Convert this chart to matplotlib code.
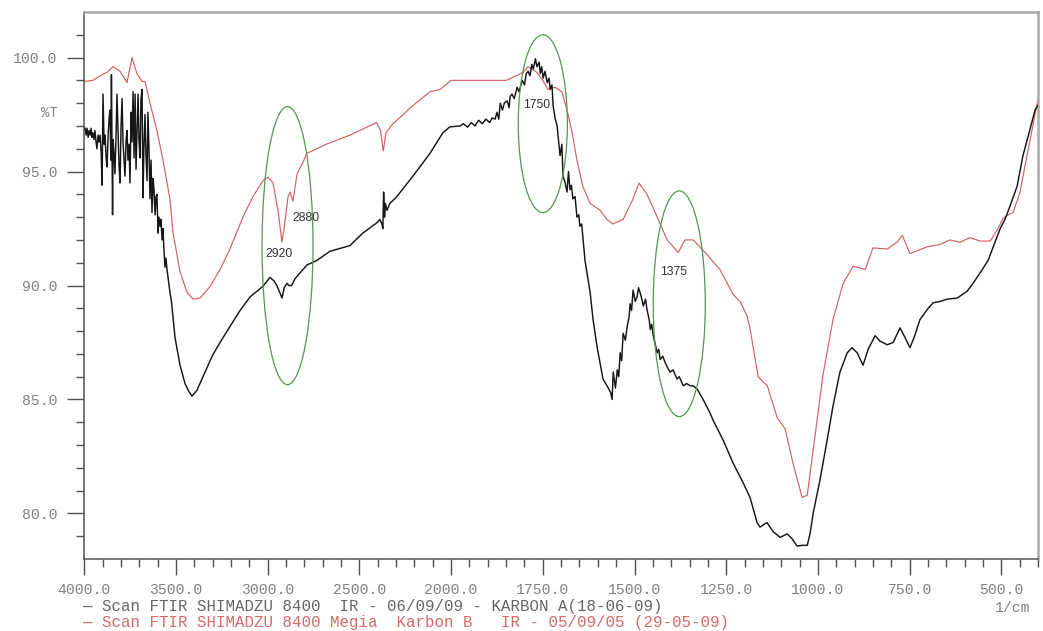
import numpy as np
import matplotlib
matplotlib.use("Agg")
import matplotlib.pyplot as plt
from matplotlib.patches import Ellipse
from matplotlib.ticker import FixedLocator, FuncFormatter

plt.rcParams['font.family'] = ['Liberation Mono', 'DejaVu Sans Mono']

# Karbon A spectrum (black trace): wavenumber [1/cm], transmittance [%T]
wn_a = [3996, 3990, 3985, 3979, 3974, 3968, 3963, 3958, 3953, 3947, 3942, 3936,
        3931, 3925, 3920, 3914, 3908, 3903, 3898, 3892, 3887, 3881, 3876, 3870,
        3865, 3860, 3855, 3852, 3846, 3843, 3838, 3833, 3827, 3822, 3816, 3811,
        3805, 3800, 3794, 3789, 3783, 3778, 3772, 3767, 3762, 3756, 3751, 3745,
        3740, 3734, 3729, 3723, 3718, 3712, 3707, 3702, 3696, 3691, 3685, 3680,
        3675, 3669, 3664, 3658, 3653, 3647, 3642, 3636, 3631, 3625, 3620, 3614,
        3609, 3604, 3598, 3593, 3587, 3582, 3576, 3571, 3566, 3560, 3555, 3549,
        3541, 3533, 3525, 3516, 3505, 3478, 3451, 3430, 3413, 3386, 3353, 3303,
        3260, 3206, 3151, 3096, 3058, 3026, 2988, 2965, 2950, 2935, 2922, 2910,
        2895, 2885, 2870, 2851, 2824, 2786, 2732, 2661, 2552, 2481, 2405, 2388,
        2377, 2372, 2368, 2363, 2358, 2350, 2334, 2296, 2208, 2115, 2045, 2007,
        1975, 1967, 1955, 1945, 1935, 1925, 1915, 1905, 1895, 1888, 1880, 1875,
        1870, 1866, 1860, 1855, 1847, 1842, 1839, 1834, 1828, 1820, 1815, 1806,
        1800, 1795, 1790, 1785, 1780, 1776, 1770, 1766, 1760, 1757, 1753, 1749,
        1744, 1738, 1733, 1730, 1725, 1722, 1716, 1711, 1703, 1698, 1695, 1689,
        1684, 1680, 1676, 1672, 1668, 1662, 1657, 1652, 1649, 1644, 1640, 1635,
        1621, 1613, 1602, 1586, 1575, 1565, 1561, 1558, 1552, 1547, 1543, 1539,
        1535, 1531, 1525, 1520, 1515, 1512, 1508, 1504, 1498, 1493, 1489, 1485,
        1480, 1476, 1470, 1466, 1460, 1457, 1453, 1449, 1443, 1438, 1434, 1430,
        1423, 1416, 1410, 1403, 1395, 1384, 1378, 1367, 1358, 1348, 1340, 1329,
        1313, 1294, 1286, 1258, 1231, 1204, 1185, 1166, 1158, 1139, 1122, 1103,
        1084, 1071, 1057, 1043, 1029, 1021, 1013, 994, 975, 959, 940, 920, 907,
        893, 877, 863, 844, 831, 811, 795, 776, 762, 749, 736, 722, 702, 686,
        667, 648, 620, 593, 577, 558, 536, 522, 503, 490, 476, 457, 441, 422,
        408, 400]
t_a = [96.9, 96.6, 96.9, 96.5, 96.8, 96.6, 96.9, 96.5, 96.7, 96.4, 96.8, 96.3,
       96.0, 96.6, 96.3, 96.6, 95.8, 94.4, 98.4, 96.2, 96.6, 95.6, 95.2, 96.6,
       97.3, 97.7, 95.5, 99.25, 93.1, 96.4, 95.8, 94.9, 96.5, 98.4, 96.8, 95.3,
       94.5, 96.9, 98.2, 96.3, 95.5, 94.8, 96.4, 96.8, 95.5, 96.2, 94.5, 97.6,
       96.3, 98.5, 95.6, 98.4, 95.1, 96.9, 98.4, 96.4, 95.6, 98.2, 98.6, 93.85,
       96.0, 97.5, 95.8, 94.6, 97.6, 95.9, 93.8, 95.5, 93.2, 94.7, 94.2, 93.1,
       93.9, 94.0, 92.3, 93.0, 92.6, 92.9, 92.0, 92.5, 91.6, 90.8, 91.2, 90.7,
       90.2, 89.7, 89.3, 88.6, 87.7, 86.5, 85.7, 85.35, 85.15, 85.4, 86.0, 86.9,
       87.5, 88.2, 88.9, 89.5, 89.75, 89.97, 90.35, 90.2, 90.0, 89.7, 89.45, 89.9,
       90.1, 90.0, 90.0, 90.3, 90.55, 90.9, 91.1, 91.5, 91.75, 92.3, 92.75, 92.9,
       92.7, 92.5, 94.1, 93.0, 93.6, 93.3, 93.6, 93.9, 94.8, 95.8, 96.7, 96.96,
       97.0, 97.1, 96.95, 97.15, 97.0, 97.25, 97.1, 97.3, 97.15, 97.35, 97.3, 97.6,
       97.3, 98.0, 97.7, 98.0, 98.1, 97.8, 98.3, 98.4, 98.2, 98.7, 98.5, 99.0,
       98.8, 99.3, 99.4, 99.2, 99.7, 99.5, 99.95, 99.6, 99.8, 99.3, 99.6, 99.1,
       99.4, 98.9, 99.1, 98.6, 98.8, 97.9, 97.3, 97.0, 95.7, 96.2, 94.8, 94.5,
       94.1, 95.0, 94.2, 94.4, 93.8, 93.9, 93.0, 93.1, 92.6, 92.7, 92.0, 91.1,
       89.7, 88.5, 87.3, 85.9, 85.6, 85.3, 85.0, 86.2, 85.5, 86.3, 86.0, 87.05,
       86.7, 87.9, 87.6, 88.2, 88.6, 89.2, 88.9, 89.8, 89.3, 89.5, 89.9, 89.7,
       89.4, 89.1, 89.4, 88.95, 88.5, 88.07, 88.3, 87.8, 87.4, 87.05, 87.2, 86.75,
       86.9, 86.6, 86.4, 86.2, 86.3, 85.9, 86.0, 85.6, 85.7, 85.6, 85.6, 85.45,
       85.0, 84.4, 84.1, 83.2, 82.2, 81.35, 80.7, 79.6, 79.4, 79.6, 79.2, 78.95,
       79.1, 78.9, 78.57, 78.6, 78.6, 79.15, 80.0, 81.5, 83.2, 84.7, 86.2, 87.05, 87.27,
       87.05, 86.5, 87.2, 87.8, 87.56, 87.4, 87.5, 88.14, 87.7, 87.27, 87.8, 88.5, 88.95, 89.24,
       89.3, 89.4, 89.45, 89.75, 90.1, 90.55, 91.1, 91.7, 92.5, 92.9, 93.5, 94.35, 95.7, 96.84,
       97.7, 97.9]

# Karbon B spectrum (red trace)
wn_b = [4000, 3953, 3903, 3876, 3843, 3805, 3767, 3740, 3713, 3685, 3669, 3642,
        3604, 3571, 3533, 3516, 3478, 3440, 3407, 3369, 3315, 3260, 3206, 3135,
        3080, 3026, 2998, 2971, 2944, 2922, 2906, 2889, 2878, 2862, 2840, 2808,
        2786, 2680, 2551, 2406, 2385, 2370, 2355, 2323, 2208, 2115, 2060, 2000,
        1940, 1880, 1850, 1823, 1804, 1790, 1766, 1750, 1736, 1717, 1698, 1684,
        1670, 1657, 1641, 1621, 1594, 1575, 1559, 1531, 1504, 1488, 1466, 1438,
        1411, 1381, 1362, 1340, 1302, 1267, 1231, 1212, 1193, 1185, 1163, 1138,
        1111, 1089, 1068, 1043, 1029, 1008, 986, 959, 931, 904, 871, 850, 811,
        784, 770, 749, 702, 667, 640, 612, 585, 558, 530, 511, 495, 481, 468,
        449, 430, 413, 400]
t_b = [98.95, 99.0, 99.25, 99.35, 99.6, 99.4, 98.9, 100.0, 99.3, 98.95, 98.95, 98.0,
       96.8, 95.5, 93.8, 92.3, 90.6, 89.7, 89.4, 89.45, 89.95, 90.7, 91.6, 93.0,
       93.9, 94.6, 94.75, 94.5, 93.3, 91.9, 92.8, 93.9, 94.1, 93.7, 94.9, 95.4,
       95.8, 96.2, 96.6, 97.15, 96.8, 95.9, 96.7, 97.05, 97.9, 98.5, 98.6, 99.0,
       99.0, 99.0, 99.0, 99.2, 99.35, 99.6, 99.35, 99.0, 98.6, 98.7, 98.5, 97.7,
       96.7, 95.5, 94.35, 93.6, 93.3, 92.9, 92.7, 92.9, 93.8, 94.5, 94.0, 93.0,
       92.0, 91.45, 92.0, 92.0, 91.35, 90.7, 89.6, 89.3, 88.65, 88.1, 86.0, 85.6,
       84.2, 83.7, 82.2, 80.7, 80.8, 83.4, 86.1, 88.5, 90.1, 90.85, 90.7, 91.65, 91.6,
       91.9, 92.2, 91.4, 91.7, 91.8, 92.0, 91.9, 92.1, 91.95, 91.95, 92.45, 92.95, 93.1,
       93.2, 94.1, 95.7, 97.1, 98.2]

# Marked absorption bands
band_labels = ["2920", "2880", "1750", "1375"]
band_label_x = [2938, 2791, 1766, 1394]
band_label_y = [91.4, 92.94, 97.9, 90.6]

x_major = [4000, 3500, 3000, 2500, 2000, 1750, 1500, 1250, 1000, 750, 500]
y_major = [80, 85, 90, 95, 100]

legend_a = "\u2014 Scan FTIR SHIMADZU 8400  IR - 06/09/09 - KARBON A(18-06-09)"
legend_b = "\u2014 Scan FTIR SHIMADZU 8400 Megia  Karbon B   IR - 05/09/05 (29-05-09)"


# split wavenumber axis: 500 per division above 2000, 250 per division below
def fwd(x):
    x = np.asarray(x, dtype=float)
    return np.where(x >= 2000, (x - 2000) / 500.0, (x - 2000) / 250.0)


def inv(u):
    u = np.asarray(u, dtype=float)
    return np.where(u >= 0, 2000 + 500.0 * u, 2000 + 250.0 * u)


fig = plt.figure(figsize=(10.43, 6.31), dpi=100)
ax = fig.add_axes([84.3 / 1043, 72 / 631, 953.7 / 1043, 547 / 631])
ax.set_xscale('function', functions=(fwd, inv))

ax.plot(wn_b, t_b, color='#d46060', lw=0.85, zorder=2)
ax.plot(wn_a, t_a, color='#161616', lw=1.05, zorder=3)

ax.set_xlim(4000, 400)
ax.set_ylim(78, 102)

x_minor = list(range(3900, 2000, -100)) + list(range(1950, 399, -50))
ax.xaxis.set_major_locator(FixedLocator(x_major))
ax.xaxis.set_minor_locator(FixedLocator([v for v in x_minor if v not in x_major]))
ax.xaxis.set_major_formatter(FuncFormatter(lambda v, p: f"{v:.1f}"))
ax.yaxis.set_major_locator(FixedLocator(y_major))
ax.yaxis.set_minor_locator(FixedLocator([v for v in range(79, 102) if v not in y_major]))
ax.yaxis.set_major_formatter(FuncFormatter(lambda v, p: f"{v:.1f}"))

ax.tick_params(axis='x', which='major', direction='out', length=11.5, width=1.0,
               color='#505050', pad=6.0, labelsize=10.6, labelcolor='#808080')
ax.tick_params(axis='x', which='minor', direction='out', length=5.8, width=1.0,
               color='#505050')
ax.tick_params(axis='y', which='major', direction='out', length=12.2, width=1.0,
               color='#505050', pad=7.0, labelsize=10.6, labelcolor='#808080')
ax.tick_params(axis='y', which='minor', direction='out', length=5.5, width=1.0,
               color='#505050')

for side in ('top', 'right'):
    ax.spines[side].set_color('#a8a8a8')
    ax.spines[side].set_linewidth(1.8)
for side in ('left', 'bottom'):
    ax.spines[side].set_color('#555555')
    ax.spines[side].set_linewidth(1.1)

# green ellipses around the bands of interest
for cx, cy, w, h in [(2892, 91.75, 278, 12.2), (1750, 97.1, 134, 7.8), (1378, 89.2, 142, 9.9)]:
    ax.add_patch(Ellipse((cx, cy), w, h, fill=False, edgecolor='#4e9a4e', lw=0.9, zorder=4))

for lab, bx, by in zip(band_labels, band_label_x, band_label_y):
    ax.text(bx, by, lab, ha='center', va='center', fontsize=8.8, color='#333333',
            family=['Liberation Sans', 'DejaVu Sans'], zorder=5)

ax.text(-0.037, 0.815, "%T", transform=ax.transAxes, ha='center', va='center',
        fontsize=10, color='#808080')
fig.text(1030 / 1043, 1 - 608 / 631, "1/cm", ha='right', va='center',
         fontsize=10.6, color='#808080')
fig.text(83 / 1043, 1 - 606 / 631, legend_a, ha='left', va='center',
         fontsize=11.35, color='#666666')
fig.text(83 / 1043, 1 - 622 / 631, legend_b, ha='left', va='center',
         fontsize=11.35, color='#d46a6a')

fig.savefig("out.png", dpi=100, facecolor='white')
